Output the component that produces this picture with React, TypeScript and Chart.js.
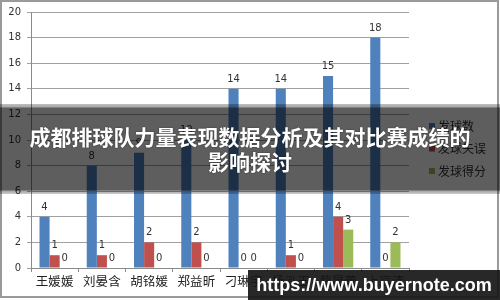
import React, { useEffect, useRef } from "react";
import { Chart, registerables } from "chart.js";

Chart.register(...registerables);

// Players (x categories)
const players = ["王媛媛", "刘晏含", "胡铭媛", "郑益昕", "刁琳宇", "杨泓玉", "蔡晟蕾", "上官清"];

// Serve statistics per player
const serveTotal = [4, 8, 9, 10, 14, 14, 15, 18];
const serveErrors = [1, 1, 2, 2, 0, 1, 4, 0];
const servePoints = [0, 0, 0, 0, 0, 0, 3, 2];

const seriesNames = ["发球数", "发球失误", "发球得分"];
const seriesColors = ["#4F81BD", "#C0504D", "#9BBB59"];

const yTicks = { min: 0, max: 20, step: 2 };

const titleLines = ["成都排球队力量表现数据分析及其对比赛成绩的", "影响探讨"];
const siteText = "https://www.buyernote.com";

const numFont = '"DejaVu Sans", sans-serif';
const cjkFont = '"Noto Sans CJK SC", "Noto Sans", sans-serif';

// Value labels above each bar
const valueLabels = {
  id: "valueLabels",
  afterDatasetsDraw(chart: any) {
    const { ctx } = chart;
    ctx.save();
    ctx.font = `10px ${numFont}`;
    ctx.fillStyle = "#333333";
    ctx.textAlign = "center";
    ctx.textBaseline = "alphabetic";
    chart.data.datasets.forEach((ds: any, i: number) => {
      const meta = chart.getDatasetMeta(i);
      meta.data.forEach((el: any, j: number) => {
        ctx.fillText(String(ds.data[j]), el.x, el.y - 7);
      });
    });
    ctx.restore();
  },
};

// Side legend and outer chart frame
const sideLegend = {
  id: "sideLegend",
  afterDraw(chart: any) {
    const { ctx } = chart;
    ctx.save();
    const rows = [126, 148.5, 171];
    chart.data.datasets.forEach((ds: any, i: number) => {
      ctx.fillStyle = ds.backgroundColor;
      ctx.fillRect(429, rows[i] - 3, 6, 6);
      ctx.fillStyle = "#333333";
      ctx.font = `12px ${cjkFont}`;
      ctx.textAlign = "left";
      ctx.textBaseline = "middle";
      ctx.fillText(ds.label, 438, rows[i]);
    });
    ctx.strokeStyle = "#9a9a9a";
    ctx.lineWidth = 2;
    ctx.strokeRect(1, 1, 497, 296);
    ctx.restore();
  },
};

export default function App() {
  const canvasRef = useRef<HTMLCanvasElement | null>(null);

  useEffect(() => {
    if (!canvasRef.current) return;
    const chart = new Chart(canvasRef.current, {
      type: "bar",
      data: {
        labels: players,
        datasets: [serveTotal, serveErrors, servePoints].map((d, i) => ({
          label: seriesNames[i],
          data: d,
          backgroundColor: seriesColors[i],
          borderWidth: 0,
          categoryPercentage: 0.64,
          barPercentage: 1,
        })),
      },
      options: {
        responsive: false,
        animation: false,
        layout: { padding: { top: 12, right: 91, left: 0, bottom: 0 } },
        plugins: {
          legend: { display: false },
          tooltip: { enabled: false },
        },
        scales: {
          x: {
            grid: {
              offset: true,
              drawOnChartArea: false,
              drawTicks: true,
              tickLength: 4,
              color: "#8a8a8a",
            },
            border: { color: "#8a8a8a" },
            ticks: {
              color: "#222222",
              font: { family: cjkFont, size: 12.5 },
              padding: 2,
              maxRotation: 0,
              autoSkip: false,
            },
            afterFit(scale: any) {
              scale.height = 32;
            },
          },
          y: {
            min: yTicks.min,
            max: yTicks.max,
            grid: { color: "#a0a0a0", tickLength: 4 },
            border: { color: "#8a8a8a" },
            ticks: {
              stepSize: yTicks.step,
              color: "#333333",
              font: { family: numFont, size: 10 },
              padding: 6,
            },
            afterFit(scale: any) {
              scale.width = 31;
            },
          },
        },
      },
      plugins: [valueLabels, sideLegend],
    });
    return () => chart.destroy();
  }, []);

  return (
    <div
      style={{
        position: "absolute",
        left: 0,
        top: 0,
        width: 500,
        height: 300,
        background: "#ffffff",
        overflow: "hidden",
      }}
    >
      <canvas ref={canvasRef} width={500} height={300} style={{ display: "block" }} />
      <div
        style={{
          position: "absolute",
          left: 0,
          top: 104,
          width: 500,
          height: 90,
          background:
            "linear-gradient(to bottom, rgba(0,0,0,0.25) 0px, rgba(0,0,0,0.35) 3px, rgba(0,0,0,0.63) 4px, rgba(0,0,0,0.63) 86px, rgba(0,0,0,0.35) 87px, rgba(0,0,0,0.2) 90px)",
          display: "flex",
          flexDirection: "column",
          alignItems: "center",
          justifyContent: "center",
          color: "#ffffff",
          fontFamily: cjkFont,
          fontWeight: 700,
          fontSize: 21,
          lineHeight: "25px",
          textShadow: "0 0 2px rgba(0,0,0,0.5)",
        }}
      >
        {titleLines.map((t) => (
          <div key={t}>{t}</div>
        ))}
      </div>
      <div
        style={{
          position: "absolute",
          left: 248,
          top: 270,
          width: 252,
          height: 30,
          background: "rgba(22,22,22,0.92)",
          color: "#ffffff",
          fontFamily: '"Liberation Sans", Arial, sans-serif',
          fontWeight: 700,
          fontSize: 18,
          lineHeight: "30px",
          textAlign: "center",
          whiteSpace: "nowrap",
        }}
      >
        {siteText}
      </div>
    </div>
  );
}
